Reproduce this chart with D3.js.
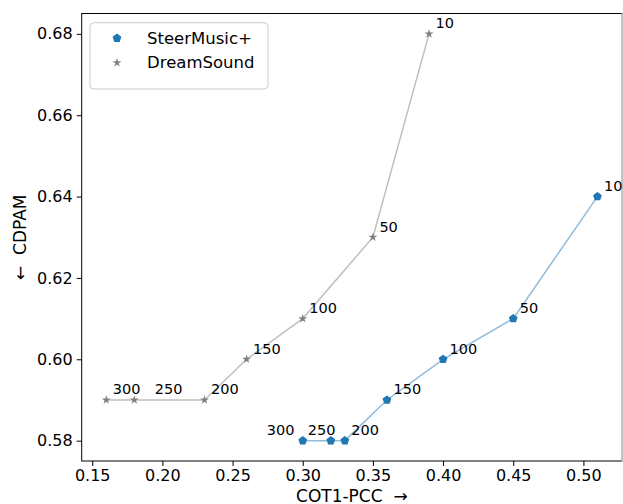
<!DOCTYPE html>
<html>
<head>
<meta charset="utf-8">
<script src="https://cdn.jsdelivr.net/npm/d3@7"></script>
<style>
  body { margin: 0; background: #fff; }
  svg { font-family: "DejaVu Sans", sans-serif; }
  .axis-label { white-space: pre; }
</style>
</head>
<body>
<svg id="chart" width="623" height="504"></svg>
<script>
const pointLabels = ["300", "250", "200", "150", "100", "50", "10"];
const steerX = [0.30, 0.32, 0.33, 0.36, 0.40, 0.45, 0.51];
const steerY = [0.58, 0.58, 0.58, 0.59, 0.60, 0.61, 0.64];
const dreamX = [0.16, 0.18, 0.23, 0.26, 0.30, 0.35, 0.39];
const dreamY = [0.59, 0.59, 0.59, 0.60, 0.61, 0.63, 0.68];
const xTicks = [0.15, 0.20, 0.25, 0.30, 0.35, 0.40, 0.45, 0.50];
const yTicks = [0.58, 0.60, 0.62, 0.64, 0.66, 0.68];
const seriesNames = ["SteerMusic+", "DreamSound"];

const svg = d3.select('#chart');
const margin = { top: 13.5, right: 1, bottom: 43, left: 81.7 };
const width = +svg.attr("width") - margin.left - margin.right;
const height = +svg.attr("height") - margin.top - margin.bottom;

const x = d3.scaleLinear().domain([0.1425, 0.5275]).range([0, width]);
const y = d3.scaleLinear().domain([0.575, 0.685]).range([height, 0]);

const g = svg.append("g")
    .attr("transform", "translate(" + margin.left + "," + margin.top + ")");

// axes
const xAxis = g.append("g")
    .attr("transform", "translate(0," + height + ")")
    .call(d3.axisBottom(x).tickValues(xTicks).tickFormat(d3.format(".2f")).tickSize(5).tickPadding(4));
const yAxis = g.append("g")
    .call(d3.axisLeft(y).tickValues(yTicks).tickFormat(d3.format(".2f")).tickSize(5).tickPadding(4));
[xAxis, yAxis].forEach(a => {
    a.select(".domain").remove();
    a.selectAll("text").attr("font-size", 16).attr("fill", "#000").attr("font-family", "DejaVu Sans");
    a.selectAll("line").attr("stroke", "#000").attr("stroke-width", 1);
});

// frame
g.append("rect")
    .attr("x", 0).attr("y", 0)
    .attr("width", width).attr("height", height)
    .attr("fill", "none").attr("stroke", "#000").attr("stroke-width", 1);
g.append("line").attr("x1", width).attr("x2", width).attr("y1", 0).attr("y2", height)
    .attr("stroke", "#d9d9d9").attr("stroke-width", 1.5);

const steer = steerX.map((v, i) => ({ x: v, y: steerY[i], label: pointLabels[i] }));
const dream = dreamX.map((v, i) => ({ x: v, y: dreamY[i], label: pointLabels[i] }));

const line = d3.line().x(d => x(d.x)).y(d => y(d.y));
g.append("path").datum(dream).attr("d", line)
    .attr("fill", "none").attr("stroke", "#bfbfbf").attr("stroke-width", 1.5);
g.append("path").datum(steer).attr("d", line)
    .attr("fill", "none").attr("stroke", "#8fbbd9").attr("stroke-width", 1.5);

function pentagon(r) {
    const pts = d3.range(5).map(k => {
        const a = -Math.PI / 2 + k * 2 * Math.PI / 5;
        return [r * Math.cos(a), r * Math.sin(a)];
    });
    return "M" + pts.map(p => p.join(",")).join("L") + "Z";
}
const starPath = d3.symbol().type(d3.symbolStar).size(25)();
const pentPath = pentagon(4.6);

g.selectAll(".dream-pt").data(dream).enter().append("path")
    .attr("class", "dream-pt")
    .attr("d", starPath)
    .attr("transform", d => "translate(" + x(d.x) + "," + y(d.y) + ")")
    .attr("fill", "#808080");
g.selectAll(".steer-pt").data(steer).enter().append("path")
    .attr("class", "steer-pt")
    .attr("d", pentPath)
    .attr("transform", d => "translate(" + x(d.x) + "," + y(d.y) + ")")
    .attr("fill", "#1f77b4");

// point annotations (offsets in px)
const steerDx = [-36, -23, 6.5, 6.5, 6.5, 6.5, 6.5];
const dreamDx = [6.5, 20.5, 6.5, 6.5, 6.5, 6.5, 6.5];
g.selectAll(".steer-lab").data(steer).enter().append("text")
    .attr("x", (d, i) => x(d.x) + steerDx[i])
    .attr("y", d => y(d.y) - 5.5)
    .attr("font-size", 14.5)
    .text(d => d.label);
g.selectAll(".dream-lab").data(dream).enter().append("text")
    .attr("x", (d, i) => x(d.x) + dreamDx[i])
    .attr("y", d => y(d.y) - 5.5)
    .attr("font-size", 14.5)
    .text(d => d.label);

// axis labels
g.append("text")
    .attr("class", "axis-label")
    .attr("text-anchor", "middle")
    .attr("x", width / 2)
    .attr("y", height + 40.5)
    .attr("font-size", 17)
    .text("COT1-PCC  \u2192");
svg.append("text")
    .attr("class", "axis-label")
    .attr("text-anchor", "middle")
    .attr("transform", "translate(26," + (margin.top + height / 2) + ") rotate(-90)")
    .attr("font-size", 17)
    .text("\u2190  CDPAM");

// legend
const legend = svg.append("g").attr("transform", "translate(90,22.7)");
legend.append("rect")
    .attr("width", 178).attr("height", 66.3)
    .attr("rx", 4)
    .attr("fill", "#fff").attr("fill-opacity", 0.8)
    .attr("stroke", "#cccccc").attr("stroke-width", 1);
legend.append("path").attr("d", pentPath)
    .attr("transform", "translate(27,15.5)").attr("fill", "#1f77b4");
legend.append("path").attr("d", starPath)
    .attr("transform", "translate(27,40)").attr("fill", "#808080");
legend.selectAll(".leg-text").data(seriesNames).enter().append("text")
    .attr("x", 57)
    .attr("y", (d, i) => 15.5 + i * 24.5)
    .attr("dy", "0.35em")
    .attr("font-size", 16.5)
    .text(d => d);
</script>
</body>
</html>
